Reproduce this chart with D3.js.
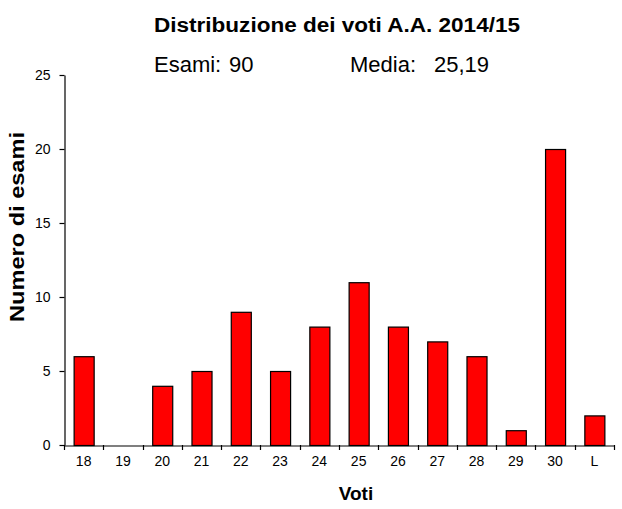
<!DOCTYPE html>
<html>
<head>
<meta charset="utf-8">
<script src="https://cdn.jsdelivr.net/npm/d3@7"></script>
<style>
  body { margin: 0; background: #fff; }
  text { font-family: "Liberation Sans", Arial, sans-serif; fill: #000; }
</style>
</head>
<body>
<script>
// voti e numero di esami
var voti = ["18","19","20","21","22","23","24","25","26","27","28","29","30","L"];
var esami = [6, 0, 4, 5, 9, 5, 8, 11, 8, 7, 6, 1, 20, 2];
var yTicks = [0, 5, 10, 15, 20, 25];
var titolo = "Distribuzione dei voti A.A. 2014/15";
var infoEsami = ["Esami:", "90"];
var infoMedia = ["Media:", "25,19"];

var width = 622, height = 509;
// margini del grafico (niente "top": è già window.top)
var xLeft = 64, xRight = 614, yTop = 75, yBottom = 445;

var svg = d3.select("body").append("svg")
    .attr("width", width)
    .attr("height", height);

var x = d3.scaleBand()
    .domain(voti)
    .range([xLeft, xRight])
    .paddingInner(0.49)
    .paddingOuter(0.245);

var y = d3.scaleLinear()
    .domain([0, 25])
    .range([yBottom, yTop]);

// titolo
svg.append("text")
    .attr("x", 154).attr("y", 32)
    .attr("textLength", 366)
    .attr("lengthAdjust", "spacingAndGlyphs")
    .style("font-size", "20px")
    .style("font-weight", "bold")
    .text(titolo);

// Esami / Media
svg.append("text").attr("x", 154).attr("y", 72).style("font-size", "22px").text(infoEsami[0]);
svg.append("text").attr("x", 229).attr("y", 72).style("font-size", "22px").text(infoEsami[1]);
svg.append("text").attr("x", 350).attr("y", 72).style("font-size", "22px").text(infoMedia[0]);
svg.append("text").attr("x", 434).attr("y", 72).style("font-size", "22px").text(infoMedia[1]);

// barre
svg.selectAll("rect.bar")
    .data(esami)
    .enter().append("rect")
    .attr("class", "bar")
    .attr("x", function(d, i) { return x(voti[i]) + 0.5; })
    .attr("y", function(d) { return y(d) + 0.5; })
    .attr("width", x.bandwidth())
    .attr("height", function(d) { return y(0) - y(d); })
    .attr("fill", function(d) { return d > 0 ? "#ff0000" : "none"; })
    .attr("stroke", function(d) { return d > 0 ? "#000" : "none"; })
    .attr("stroke-width", 1.2);

// asse y
var gy = svg.append("g")
    .attr("transform", "translate(" + (xLeft + 0.5) + ",0)")
    .call(d3.axisLeft(y).tickValues(yTicks).tickSize(5).tickPadding(9).tickSizeOuter(0));
gy.selectAll("text").style("font-size", "14px").style("font-family", "Liberation Sans, Arial, sans-serif");
gy.selectAll("line,path").attr("stroke", "#000").attr("stroke-width", 1.2);

// asse x
var gx = svg.append("g")
    .attr("transform", "translate(0," + (yBottom + 0.5) + ")")
    .call(d3.axisBottom(x).tickSize(0).tickPadding(11).tickSizeOuter(0));
gx.selectAll("text").style("font-size", "14px").style("font-family", "Liberation Sans, Arial, sans-serif");
gx.select("path").attr("stroke", "#000").attr("stroke-width", 1.2);

// tacche tra le categorie
var gap = (x.step() - x.bandwidth()) / 2;
var bordi = voti.map(function(v) { return x(v) - gap; }).concat([x(voti[voti.length - 1]) + x.bandwidth() + gap]);
svg.selectAll("line.tacca")
    .data(bordi)
    .enter().append("line")
    .attr("class", "tacca")
    .attr("x1", function(d) { return Math.round(d) + 0.5; })
    .attr("x2", function(d) { return Math.round(d) + 0.5; })
    .attr("y1", yBottom)
    .attr("y2", yBottom + 5)
    .attr("stroke", "#000")
    .attr("stroke-width", 1.2);

// titoli degli assi
svg.append("text")
    .attr("x", 356).attr("y", 500)
    .attr("text-anchor", "middle")
    .style("font-size", "19px")
    .style("font-weight", "bold")
    .text("Voti");

svg.append("text")
    .attr("transform", "translate(24,227) rotate(-90)")
    .attr("text-anchor", "middle")
    .attr("textLength", 190)
    .attr("lengthAdjust", "spacingAndGlyphs")
    .style("font-size", "21px")
    .style("font-weight", "bold")
    .text("Numero di esami");
</script>
</body>
</html>
